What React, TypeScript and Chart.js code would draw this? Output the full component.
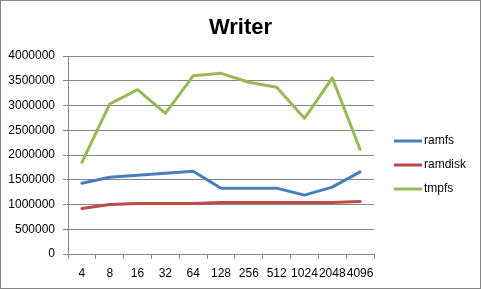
import React, { useEffect, useRef } from "react";
import { Chart, registerables } from "chart.js";

Chart.register(...registerables);

const blockSizes = ["4", "8", "16", "32", "64", "128", "256", "512", "1024", "2048", "4096"];
const ramfs = [1430000, 1550000, 1590000, 1630000, 1670000, 1330000, 1330000, 1330000, 1190000, 1350000, 1660000];
const ramdisk = [920000, 1000000, 1020000, 1020000, 1020000, 1040000, 1040000, 1040000, 1040000, 1040000, 1060000];
const tmpfs = [1850000, 3030000, 3320000, 2840000, 3600000, 3650000, 3470000, 3370000, 2740000, 3560000, 2110000];
const yTicks = [0, 500000, 1000000, 1500000, 2000000, 2500000, 3000000, 3500000, 4000000];

const FONT = "'Liberation Sans', Arial, sans-serif";
const GRID = "#868686";

// Frame, title and right-hand legend drawn around the chart area.
const decorations = {
  id: "decorations",
  beforeDraw(chart: any) {
    const { ctx, width, height } = chart;
    ctx.save();
    ctx.fillStyle = "#ffffff";
    ctx.fillRect(0, 0, width, height);
    ctx.restore();
  },
  afterDraw(chart: any) {
    const { ctx, width, height } = chart;
    ctx.save();
    ctx.strokeStyle = GRID;
    ctx.lineWidth = 1;
    ctx.strokeRect(0.5, 0.5, width - 1, height - 1);

    ctx.fillStyle = "#000000";
    ctx.font = `bold 22px ${FONT}`;
    ctx.textAlign = "center";
    ctx.textBaseline = "alphabetic";
    ctx.fillText("Writer", width / 2, 34);

    const rows = [141, 165, 189];
    ctx.font = `12px ${FONT}`;
    ctx.textAlign = "left";
    ctx.textBaseline = "middle";
    chart.data.datasets.forEach((ds: any, i: number) => {
      const y = rows[i];
      ctx.strokeStyle = ds.borderColor;
      ctx.lineWidth = 3;
      ctx.beginPath();
      ctx.moveTo(394, y);
      ctx.lineTo(422, y);
      ctx.stroke();
      ctx.fillStyle = "#000000";
      ctx.fillText(ds.label, 424, y);
    });
    ctx.restore();
  },
};

export default function App() {
  const canvasRef = useRef<HTMLCanvasElement | null>(null);

  useEffect(() => {
    const canvas = canvasRef.current;
    if (!canvas) return;
    const chart = new Chart(canvas, {
      type: "line",
      data: {
        labels: blockSizes,
        datasets: [
          { label: "ramfs", data: ramfs, borderColor: "#4A7EBB" },
          { label: "ramdisk", data: ramdisk, borderColor: "#BE4B48" },
          { label: "tmpfs", data: tmpfs, borderColor: "#98B954" },
        ].map((d) => ({
          ...d,
          borderWidth: 3,
          pointRadius: 0,
          tension: 0,
          fill: false,
          borderJoinStyle: "round" as const,
          borderCapStyle: "round" as const,
        })),
      },
      options: {
        animation: false,
        responsive: false,
        maintainAspectRatio: false,
        layout: { padding: { top: 56, right: 107, left: 0, bottom: 0 } },
        plugins: {
          legend: { display: false },
          title: { display: false },
          tooltip: { enabled: false },
        },
        scales: {
          x: {
            offset: true,
            afterFit(scale: any) {
              scale.height = 35;
            },
            grid: {
              offset: true,
              drawOnChartArea: false,
              drawTicks: true,
              tickLength: 5,
              color: GRID,
            },
            border: { display: true, color: GRID },
            ticks: {
              autoSkip: false,
              maxRotation: 0,
              minRotation: 0,
              padding: 7,
              color: "#000000",
              font: { family: FONT, size: 12 },
            },
          },
          y: {
            min: 0,
            max: 4000000,
            afterFit(scale: any) {
              scale.width = 68;
            },
            afterBuildTicks(scale: any) {
              scale.ticks = yTicks.map((v) => ({ value: v }));
            },
            grid: {
              color: GRID,
              drawTicks: true,
              tickLength: 5,
            },
            border: { display: true, color: GRID },
            ticks: {
              padding: 8,
              color: "#000000",
              font: { family: FONT, size: 12 },
              callback: (v: any) => String(v),
            },
          },
        },
      },
      plugins: [decorations],
    });
    return () => chart.destroy();
  }, []);

  return (
    <div style={{ position: "fixed", left: 0, top: 0, width: 481, height: 289 }}>
      <canvas ref={canvasRef} width={481} height={289} style={{ display: "block", width: 481, height: 289 }} />
    </div>
  );
}
